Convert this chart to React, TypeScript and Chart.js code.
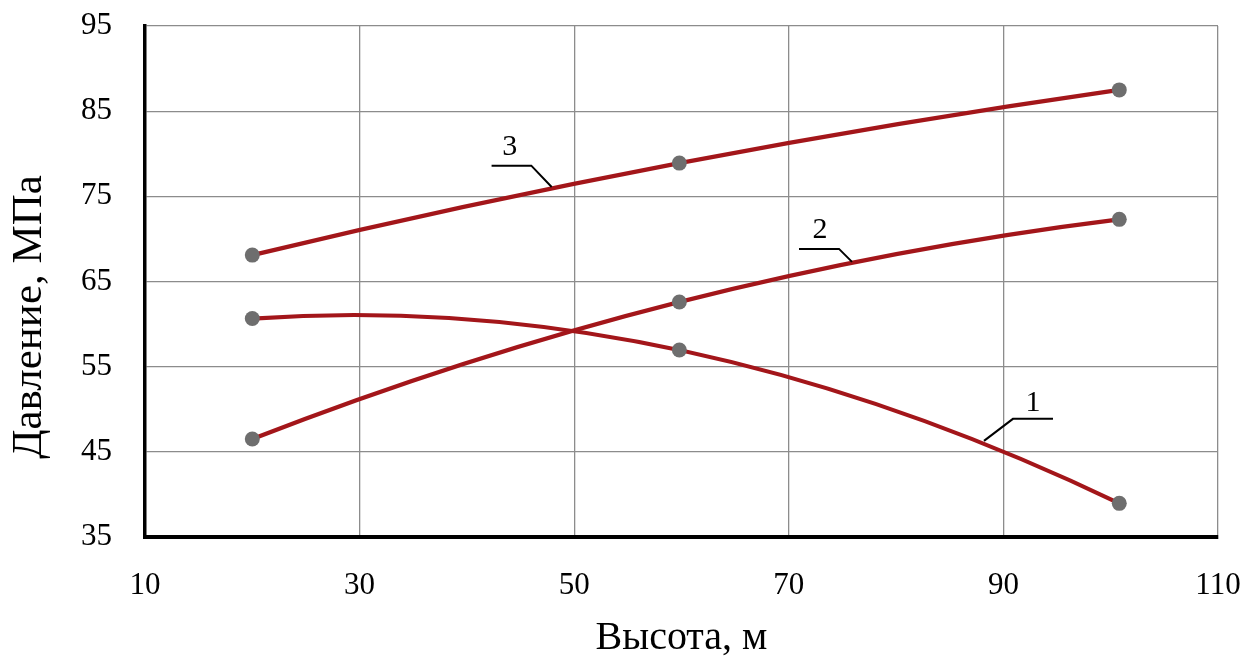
import React, { useEffect, useRef } from "react";
import { Chart, registerables } from "chart.js";

Chart.register(...registerables);

// ---- data ----
const heights = [20, 59.8, 100.8];
const series1 = [60.65, 56.95, 38.95];
const series2 = [46.5, 62.6, 72.3];
const series3 = [68.1, 78.9, 87.5];
const seriesNames = ["1", "2", "3"];
const xTicks = [10, 30, 50, 70, 90, 110];
const yTicks = [35, 45, 55, 65, 75, 85, 95];
const xTitle = "Высота, м";
const yTitle = "Давление, МПа";

// curve label callouts (data coordinates): text position, leader polyline
const calloutText = [
  { x: 92.76, y: 50.75 },
  { x: 72.9, y: 71.06 },
  { x: 44.0, y: 80.8 },
];
const calloutLeaders = [
  [{ x: 94.62, y: 48.87 }, { x: 90.89, y: 48.87 }, { x: 88.19, y: 46.29 }],
  [{ x: 70.95, y: 68.83 }, { x: 74.68, y: 68.83 }, { x: 75.89, y: 67.3 }],
  [{ x: 42.3, y: 78.6 }, { x: 46.0, y: 78.6 }, { x: 47.9, y: 76.1 }],
];

const LINE_COLOR = "#a3161a";
const POINT_COLOR = "#6e6e6e";
const FONT = '"Liberation Serif", "Times New Roman", serif';

const allSeries = [series1, series2, series3];

const curvesPlugin = {
  id: "quadCurves",
  beforeDatasetsDraw(chart: any) {
    const { ctx, chartArea, scales } = chart;
    const xs = scales.x;
    const ys = scales.y;
    ctx.save();
    ctx.beginPath();
    ctx.rect(chartArea.left, chartArea.top, chartArea.right - chartArea.left, chartArea.bottom - chartArea.top);
    ctx.clip();
    ctx.strokeStyle = LINE_COLOR;
    ctx.lineWidth = 4.2;
    ctx.lineCap = "round";
    allSeries.forEach((vals) => {
      const p = vals.map((v, i) => ({ x: xs.getPixelForValue(heights[i]), y: ys.getPixelForValue(v) }));
      const cx = 2 * p[1].x - (p[0].x + p[2].x) / 2;
      const cy = 2 * p[1].y - (p[0].y + p[2].y) / 2;
      ctx.beginPath();
      ctx.moveTo(p[0].x, p[0].y);
      ctx.quadraticCurveTo(cx, cy, p[2].x, p[2].y);
      ctx.stroke();
    });
    ctx.restore();
  },
  afterDatasetsDraw(chart: any) {
    const { ctx, scales } = chart;
    const xs = scales.x;
    const ys = scales.y;
    ctx.save();
    ctx.strokeStyle = "#000";
    ctx.lineWidth = 2;
    calloutLeaders.forEach((pts) => {
      ctx.beginPath();
      pts.forEach((pt, i) => {
        const px = xs.getPixelForValue(pt.x);
        const py = ys.getPixelForValue(pt.y);
        if (i === 0) ctx.moveTo(px, py);
        else ctx.lineTo(px, py);
      });
      ctx.stroke();
    });
    ctx.fillStyle = "#000";
    ctx.font = `30px ${FONT}`;
    ctx.textAlign = "center";
    ctx.textBaseline = "middle";
    calloutText.forEach((t, i) => {
      ctx.fillText(seriesNames[i], xs.getPixelForValue(t.x), ys.getPixelForValue(t.y));
    });
    ctx.restore();
  },
  afterDraw(chart: any) {
    const { ctx } = chart;
    ctx.save();
    ctx.fillStyle = "#000";
    ctx.font = `43px ${FONT}`;
    ctx.translate(29.5, 317);
    ctx.rotate(-Math.PI / 2);
    ctx.textAlign = "center";
    ctx.textBaseline = "middle";
    ctx.fillText(yTitle, 0, 0);
    ctx.restore();
  },
};

export default function App() {
  const ref = useRef<HTMLCanvasElement | null>(null);
  useEffect(() => {
    if (!ref.current) return;
    const chart = new Chart(ref.current, {
      type: "scatter",
      data: {
        datasets: allSeries.map((vals, si) => ({
          label: seriesNames[si],
          data: vals.map((v, i) => ({ x: heights[i], y: v })),
          showLine: false,
          pointRadius: 7.5,
          pointHoverRadius: 7.5,
          pointBackgroundColor: POINT_COLOR,
          pointBorderWidth: 0,
          borderColor: LINE_COLOR,
        })),
      },
      options: {
        animation: false,
        responsive: false,
        events: [],
        layout: { padding: { top: 26, right: 37, left: 0, bottom: 0 } },
        plugins: { legend: { display: false }, tooltip: { enabled: false } },
        scales: {
          x: {
            type: "linear",
            min: 10,
            max: 110,
            afterBuildTicks: (s: any) => {
              s.ticks = xTicks.map((v) => ({ value: v }));
            },
            afterFit: (s: any) => {
              s.height = 121;
              s.paddingLeft = 0;
              s.paddingRight = 0;
            },
            ticks: {
              font: { family: FONT, size: 31 },
              color: "#000",
              padding: 30,
            },
            grid: { color: "#8c8c8c", lineWidth: 1.3, drawTicks: false },
            border: { color: "#000", width: 4 },
            title: {
              display: true,
              text: xTitle,
              color: "#000",
              font: { family: FONT, size: 40, lineHeight: 1 },
              padding: { top: 0, bottom: 0 },
            },
          },
          y: {
            type: "linear",
            min: 35,
            max: 95,
            afterBuildTicks: (s: any) => {
              s.ticks = yTicks.map((v) => ({ value: v }));
            },
            afterFit: (s: any) => {
              s.width = 145;
              s.paddingTop = 0;
              s.paddingBottom = 0;
            },
            ticks: {
              font: { family: FONT, size: 31 },
              color: "#000",
              padding: 33,
            },
            grid: { color: "#8c8c8c", lineWidth: 1.3, drawTicks: false },
            border: { color: "#000", width: 3.5 },
          },
        },
      },
      plugins: [curvesPlugin],
    } as any);
    return () => chart.destroy();
  }, []);
  return (
    <div style={{ position: "fixed", left: 0, top: 0, width: 1255, height: 658, background: "#fff" }}>
      <canvas ref={ref} width={1255} height={658} style={{ display: "block" }} />
    </div>
  );
}
